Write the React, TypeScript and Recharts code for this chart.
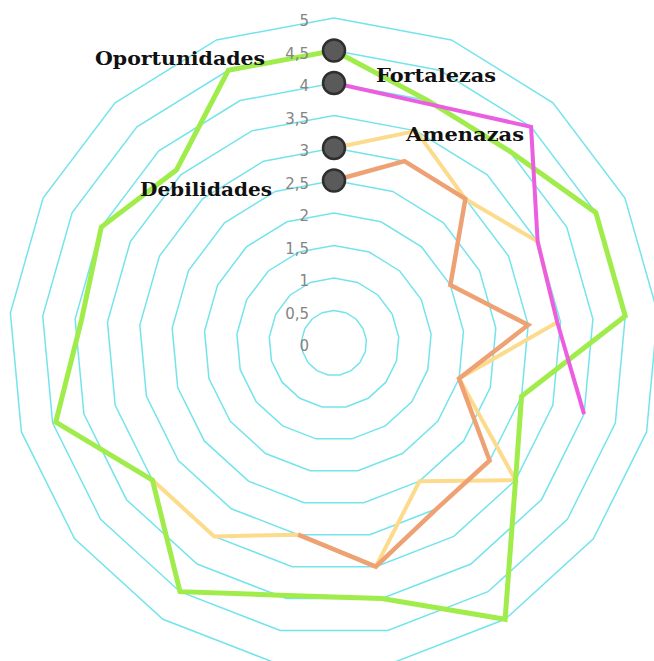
import React from 'react';
import { RadarChart, Radar, PolarGrid, PolarAngleAxis, PolarRadiusAxis } from 'recharts';

// 17 spokes, no names shown on the chart
const categories = ['1', '2', '3', '4', '5', '6', '7', '8', '9', '10', '11', '12', '13', '14', '15', '16', '17'];

const oportunidades = [4.5, 4.0, 4.0, 4.5, 4.5, 3.0, 3.5, 5.0, 4.0, 3.95, 4.5, 3.5, 4.45, 3.9, 4.0, 3.6, 4.5];
const fortalezas = [4.0, 3.95, 4.5, 3.5, 3.45, 4.0, null, null, null, null, null, null, null, null, null, null, null];
const amenazas = [3.0, 3.5, 3.0, 3.5, 3.45, 2.0, 3.5, 2.5, 3.5, 3.0, 3.5, 3.5, null, null, null, null, null];
const debilidades = [2.5, 3.0, 3.0, 2.0, 3.0, 2.0, 3.0, 3.0, 3.5, 3.0, null, null, null, null, null, null, null];

const radiusTicks = [0, 0.5, 1, 1.5, 2, 2.5, 3, 3.5, 4, 4.5, 5];

const data = categories.map((k, i) => ({
  k,
  oportunidades: oportunidades[i],
  fortalezas: fortalezas[i],
  amenazas: amenazas[i],
  debilidades: debilidades[i],
}));

// drawing order: first is at the bottom
const series = [
  { key: 'amenazas', label: 'Amenazas', color: '#fddb8c', width: 4, dx: 72, dy: -7, anchor: 'start', textLen: 118 },
  { key: 'debilidades', label: 'Debilidades', color: '#eea274', width: 4.5, dx: -62, dy: 15, anchor: 'end', textLen: 132 },
  { key: 'oportunidades', label: 'Oportunidades', color: '#9fec4a', width: 5, dx: -69, dy: 14, anchor: 'end', textLen: 170 },
  { key: 'fortalezas', label: 'Fortalezas', color: '#ec5ee0', width: 4, dx: 42, dy: -1, anchor: 'start', textLen: 120 },
];

const fmt = (v: number) => String(v).replace('.', ',');

const RadiusTick = ({ x, y, payload }: any) => (
  <text x={x - 25} y={y + 8} textAnchor="end" fontFamily="DejaVu Sans" fontSize={15} fill="#858585">
    {fmt(payload.value)}
  </text>
);

// open polyline through the points that have a value; closed only when every spoke has one
const makeLine = (s: (typeof series)[number]) => (props: any) => {
  const pts = (props.points || []).filter((p: any) => p.payload && p.payload[s.key] != null);
  if (!pts.length) return <g />;
  const closed = pts.length === props.points.length;
  const d = pts.map((p: any, i: number) => `${i === 0 ? 'M' : 'L'}${p.x},${p.y}`).join('') + (closed ? 'Z' : '');
  return <path d={d} fill="none" stroke={s.color} strokeWidth={s.width} strokeLinejoin="miter" />;
};

const makeLabelDot = (s: (typeof series)[number]) => (props: any) => {
  const { cx, cy, index } = props;
  if (index !== 0) return <g key={`d-${s.key}-${index}`} />;
  return (
    <g key={`d-${s.key}-${index}`}>
      <circle cx={cx} cy={cy} r={11} fill="#5a5a5a" stroke="#2e2e2e" strokeWidth={2.5} />
      <text
        x={cx + s.dx}
        y={cy + s.dy}
        textAnchor={s.anchor}
        fontFamily="DejaVu Serif"
        fontWeight="bold"
        fontSize={19}
        fill="#111"
        textLength={s.textLen}
        lengthAdjust="spacingAndGlyphs"
      >
        {s.label}
      </text>
    </g>
  );
};

export default function App() {
  return (
    <div style={{ position: 'absolute', left: 0, top: 0, width: 654, height: 661, background: '#fff', overflow: 'hidden' }}>
      <RadarChart
        width={654}
        height={661}
        data={data}
        cx={334}
        cy={343}
        outerRadius={325}
        margin={{ top: 0, right: 0, bottom: 0, left: 0 }}
      >
        <PolarGrid gridType="polygon" radialLines={false} stroke="#74e4ec" strokeWidth={1.5} />
        <PolarAngleAxis dataKey="k" tick={false} axisLine={false} tickLine={false} />
        <PolarRadiusAxis
          angle={90}
          type="number"
          domain={[0, 5]}
          ticks={radiusTicks}
          axisLine={false}
          tickLine={false}
          tick={<RadiusTick />}
        />
        {series.map((s) => (
          <Radar
            key={s.key}
            dataKey={s.key}
            stroke={s.color}
            fill="none"
            shape={makeLine(s)}
            dot={false}
            isAnimationActive={false}
          />
        ))}
        {series.map((s) => (
          <Radar
            key={`${s.key}-label`}
            dataKey={s.key}
            stroke="none"
            fill="none"
            fillOpacity={0}
            dot={makeLabelDot(s)}
            isAnimationActive={false}
          />
        ))}
      </RadarChart>
    </div>
  );
}
